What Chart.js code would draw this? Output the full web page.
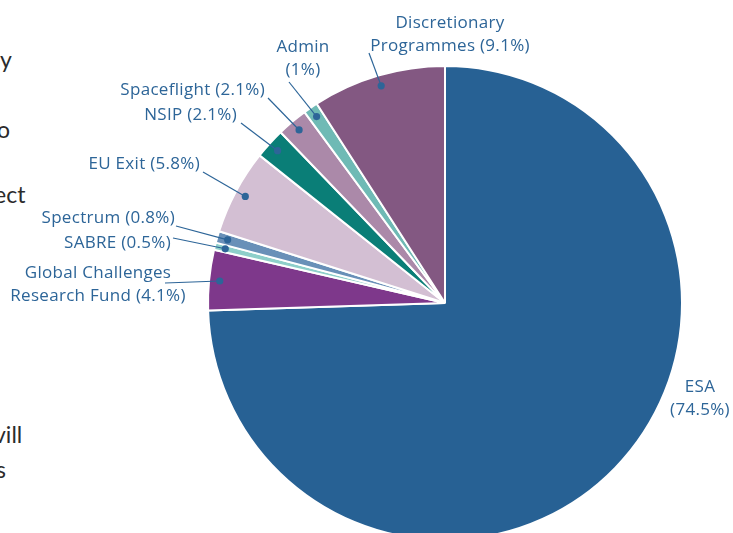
<!DOCTYPE html>
<html>
<head>
<meta charset="utf-8">
<script src="https://cdn.jsdelivr.net/npm/chart.js@4.4.0/dist/chart.umd.min.js"></script>
<style>
  html, body { margin: 0; padding: 0; background: #fff; overflow: hidden; width: 733px; height: 533px; }
  #wrap { position: absolute; left: 0; top: 0; width: 890px; height: 606px; }
  .frag { position: absolute; font-family: Lato, sans-serif; font-size: 23px; color: #2b2b2b; }
</style>
</head>
<body>
<div class="frag" style="left:0px;top:45px">y</div>
<div class="frag" style="left:-3px;top:115px">o</div>
<div class="frag" style="left:-6px;top:180px">ect</div>
<div class="frag" style="left:-6px;top:420px">vill</div>
<div class="frag" style="left:-4px;top:455px">s</div>
<div id="wrap"><canvas id="pie" width="890" height="606"></canvas></div>
<script>
// budget shares, clockwise from 12 o'clock
var categories = ["ESA", "Global Challenges Research Fund", "SABRE", "Spectrum", "EU Exit",
  "NSIP", "Spaceflight", "Admin", "Discretionary Programmes"];
var shares = [74.5, 4.1, 0.5, 0.8, 5.8, 2.1, 2.1, 1, 9.1];
var labelLines = [
  ["ESA", "(74.5%)"],
  ["Global Challenges", "Research Fund (4.1%)"],
  ["SABRE (0.5%)"],
  ["Spectrum (0.8%)"],
  ["EU Exit (5.8%)"],
  ["NSIP (2.1%)"],
  ["Spaceflight (2.1%)"],
  ["Admin", "(1%)"],
  ["Discretionary", "Programmes (9.1%)"]
];
var colours = ["#276194", "#7e388b", "#8ecfca", "#6990b8", "#d3bfd3",
  "#0a7e77", "#ab89a9", "#6fbab5", "#835882"];

// where each label sits and where its leader starts (null = no leader)
var labelLayout = [
  { x: 700, y: 387, align: "center", from: null },
  { x: 98, y: 273, align: "center", from: [165, 283] },
  { x: 171, y: 243, align: "right", from: [173, 238] },
  { x: 175, y: 218, align: "right", from: [176, 226] },
  { x: 200, y: 164, align: "right", from: [203, 172] },
  { x: 237, y: 115, align: "right", from: [241, 123] },
  { x: 265, y: 90, align: "right", from: [268, 98] },
  { x: 303, y: 47, align: "center", from: [289, 82] },
  { x: 450, y: 23, align: "center", from: [369, 53] }
];

var textBlue = "#2d6598";

var calloutPlugin = {
  id: "callouts",
  afterDatasetsDraw: function (chart) {
    var ctx = chart.ctx;
    var arcs = chart.getDatasetMeta(0).data;
    ctx.save();
    ctx.font = "17px 'Open Sans', sans-serif";
    ctx.letterSpacing = "0.3px";
    ctx.textBaseline = "middle";
    ctx.fillStyle = textBlue;
    ctx.strokeStyle = textBlue;
    ctx.lineWidth = 1.2;
    arcs.forEach(function (arc, i) {
      var p = arc.getProps(["x", "y", "startAngle", "endAngle", "outerRadius"], true);
      var lay = labelLayout[i];
      if (lay.from) {
        var mid = (p.startAngle + p.endAngle) / 2;
        var r = p.outerRadius * 0.955;
        var dx = p.x + Math.cos(mid) * r;
        var dy = p.y + Math.sin(mid) * r;
        ctx.beginPath();
        ctx.moveTo(lay.from[0], lay.from[1]);
        ctx.lineTo(dx, dy);
        ctx.stroke();
        ctx.beginPath();
        ctx.arc(dx, dy, 3.6, 0, Math.PI * 2);
        ctx.fill();
      }
      ctx.textAlign = lay.align;
      labelLines[i].forEach(function (line, j) {
        ctx.fillText(line, lay.x, lay.y + j * 23);
      });
    });
    ctx.restore();
  }
};

new Chart(document.getElementById("pie"), {
  type: "pie",
  data: {
    labels: categories,
    datasets: [{
      data: shares,
      backgroundColor: colours,
      borderColor: "#ffffff",
      borderWidth: 2
    }]
  },
  options: {
    responsive: false,
    animation: false,
    layout: { padding: 65 },
    plugins: {
      legend: { display: false },
      tooltip: { enabled: false }
    }
  },
  plugins: [calloutPlugin]
});
</script>
</body>
</html>
